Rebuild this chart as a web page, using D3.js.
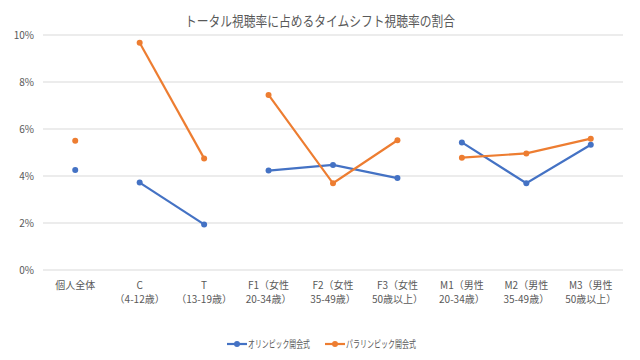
<!DOCTYPE html>
<html><head><meta charset="utf-8">
<script src="https://cdn.jsdelivr.net/npm/d3@7/dist/d3.min.js"></script>
<style>body{margin:0;background:#fff}svg{display:block}text{font-family:"Noto Sans CJK JP","Noto Sans",sans-serif;fill:#595959}</style>
</head><body><svg id="c" width="640" height="360"></svg>
<script>
const categories = ["個人全体","C\n（4-12歳）","T\n（13-19歳）","F1（女性\n20-34歳）","F2（女性\n35-49歳）","F3（女性\n50歳以上）","M1（男性\n20-34歳）","M2（男性\n35-49歳）","M3（男性\n50歳以上）"];
const groups = [0,1,1,2,2,2,3,3,3];
const olympic = [4.26,3.72,1.94,4.23,4.47,3.91,5.43,3.69,5.33];
const paralympic = [5.50,9.67,4.75,7.45,3.69,5.52,4.78,4.96,5.59];
const yTicks = [0,2,4,6,8,10];
const seriesNames = ["オリンピック開会式","パラリンピック開会式"];
const colors = ["#4472C4","#ED7D31"];

const svg = d3.select("#c");
const x = d3.scaleBand().domain(d3.range(categories.length)).range([43,623]);
const y = d3.scaleLinear().domain([0,10]).range([270,35]);

svg.append("text").attr("x",320).attr("y",26).attr("text-anchor","middle").style("font-size","14px")
  .attr("textLength",270).attr("lengthAdjust","spacingAndGlyphs").text("トータル視聴率に占めるタイムシフト視聴率の割合");

svg.append("g").selectAll("line").data(yTicks).join("line")
  .attr("x1",43).attr("x2",623).attr("y1",d=>y(d)).attr("y2",d=>y(d))
  .attr("stroke","#d9d9d9").attr("stroke-width",1);
svg.append("g").selectAll("text").data(yTicks).join("text")
  .attr("x",34).attr("y",d=>y(d)+4).attr("text-anchor","end").style("font-size","10px").text(d=>d+"%");

const xl = svg.append("g").selectAll("text").data(categories).join("text")
  .attr("x",(d,i)=>x(i)+x.bandwidth()/2).attr("y",289).attr("text-anchor","middle").style("font-size","10px");
xl.each(function(d){
  const lines=d.split("\n");
  d3.select(this).selectAll("tspan").data(lines).join("tspan")
    .attr("x",d3.select(this).attr("x")).attr("dy",(l,j)=>j?14:0).text(l=>l);
});

const cx = i=>x(i)+x.bandwidth()/2;
[olympic,paralympic].forEach((vals,s)=>{
  const g = svg.append("g");
  const line = d3.line().x(d=>cx(d.i)).y(d=>y(d.v));
  const grouped = d3.groups(vals.map((v,i)=>({v,i,g:groups[i]})),d=>d.g);
  grouped.forEach(([k,pts])=>{
    if(pts.length>1) g.append("path").attr("d",line(pts)).attr("fill","none").attr("stroke",colors[s]).attr("stroke-width",2.2);
  });
  g.selectAll("circle").data(vals).join("circle").attr("cx",(d,i)=>cx(i)).attr("cy",d=>y(d)).attr("r",3).attr("fill",colors[s]);
});

const leg = svg.append("g");
const lx=[227,325];
const tw=[62,70];
seriesNames.forEach((n,s)=>{
  leg.append("line").attr("x1",lx[s]).attr("x2",lx[s]+20).attr("y1",344).attr("y2",344).attr("stroke",colors[s]).attr("stroke-width",2.2);
  leg.append("circle").attr("cx",lx[s]+10).attr("cy",344).attr("r",3).attr("fill",colors[s]);
  leg.append("text").attr("x",lx[s]+21).attr("y",348).style("font-size","10px")
    .attr("textLength",tw[s]).attr("lengthAdjust","spacingAndGlyphs").text(n);
});
</script></body></html>
